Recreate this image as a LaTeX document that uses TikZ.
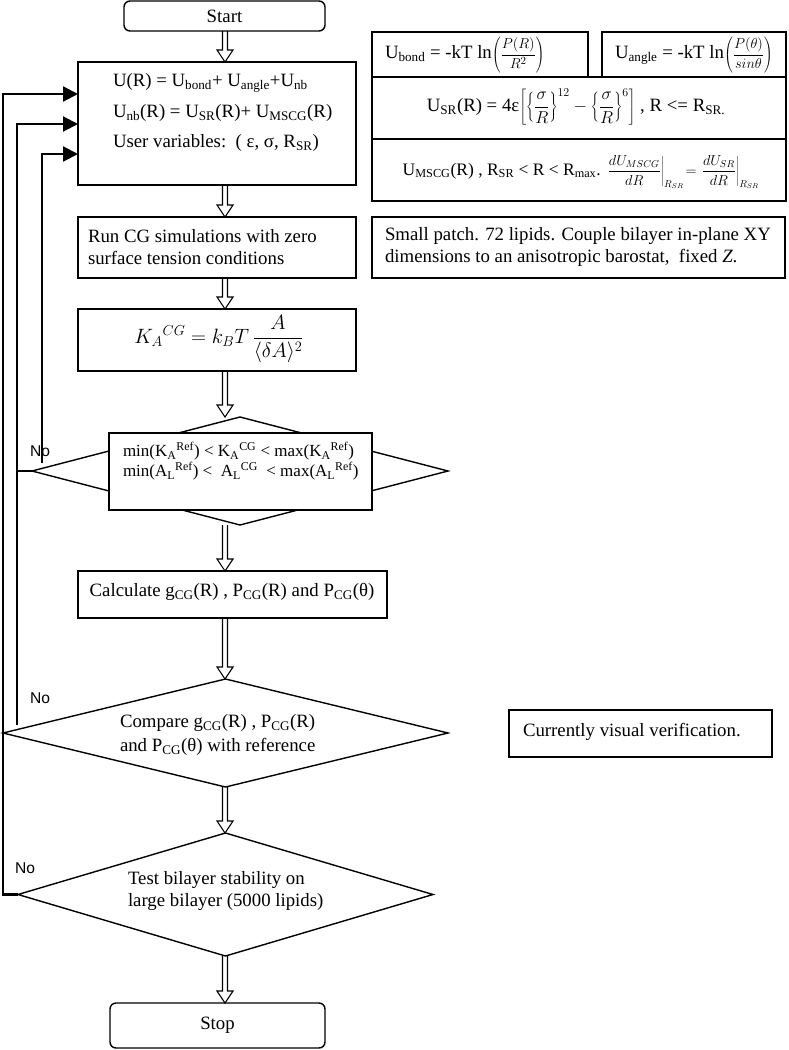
\documentclass[tikz,border=0pt]{standalone}
\usepackage{fontspec}
\setmainfont{Liberation Serif}
\newfontfamily\arialf{Liberation Sans}
\usetikzlibrary{shapes.geometric,arrows.meta,calc}
\newcommand\tsub[1]{\textsubscript{#1}}
\newcommand\tsup[1]{\textsuperscript{#1}}
\newcommand\mainsz{\fontsize{18.8}{22}\selectfont}
\newcommand\blockarrow[2]{%
  \draw[blockarr] ($(#1)+(-2.5,0)$) -- ($(#2)+(-2.5,-12)$) -- ($(#2)+(-8,-12)$)
    -- (#2) -- ($(#2)+(8,-12)$) -- ($(#2)+(2.5,-12)$) -- ($(#1)+(2.5,0)$);}
\begin{document}
\begin{tikzpicture}[x=1pt,y=-1pt,
  every node/.style={font=\mainsz, outer sep=0pt},
  box/.style={draw, line width=1.4pt, inner sep=0pt, anchor=north west},
  rbox/.style={box, rounded corners=6pt, anchor=center},
  dia/.style={draw, line width=1.4pt, diamond, inner sep=0pt},
  txt/.style={inner sep=0pt, anchor=west, align=left},
  blockarr/.style={draw, line width=1.1pt, line join=miter},
  loopline/.style={line width=2.2pt, -{Triangle[length=15pt,width=15pt]}},
  nolabel/.style={font=\arialf\fontsize{15.6}{18}\selectfont, inner sep=0pt}]
\useasboundingbox (0,0) rectangle (788,1050);
\coordinate (axis) at (225,0);

% left column
\node[rbox, minimum width=201, minimum height=30] (start) at (224.5,16) {Start};
\node[box, minimum width=278, minimum height=123] (box1) at (78,62) {};
\node[txt] (t1a) at (113,83) {U(R) = U\tsub{bond}+ U\tsub{angle}+U\tsub{nb}};
\node[txt] (t1b) at (113,113) {U\tsub{nb}(R) = U\tsub{SR}(R)+ U\tsub{MSCG}(R)};
\node[txt] (t1c) at (113,143) {User variables:\ \ ( ε, σ, R\tsub{SR})};

\node[box, minimum width=278, minimum height=61] (box2) at (78,217) {};
\node[txt] (t2) at (88,247) {Run CG simulations with zero\\surface tension conditions};

\node[box, minimum width=278, minimum height=62] (box3) at (78,309) {};
\node[inner sep=0pt, font=\fontsize{19.5}{20}\selectfont] (t3) at (219,339) {$K_A{}^{CG} = k_B T\,{\displaystyle\frac{A}{\langle \delta A\rangle^2}}$};

\node[dia, minimum width=416, minimum height=108, aspect=3.85] (d1) at (240,471) {};
\node[box, fill=white, minimum width=263, minimum height=77] (d1box) at (109,433) {};
\node[txt, font=\fontsize{17}{20}\selectfont] (t4) at (123,461)
  {min(K\tsub{A}\tsup{Ref}) < K\tsub{A}\tsup{CG} < max(K\tsub{A}\tsup{Ref})\\
   min(A\tsub{L}\tsup{Ref}) <\ \ A\tsub{L}\tsup{CG}\ \ < max(A\tsub{L}\tsup{Ref})};

\node[box, minimum width=309, minimum height=47] (box4) at (78,571) {};
\node[inner sep=0pt] (t5) at (232,592) {Calculate g\tsub{CG}(R) , P\tsub{CG}(R) and P\tsub{CG}(θ)};

\node[dia, minimum width=445, minimum height=108, aspect=4.1] (d2) at (225.5,733) {};
\node[txt, font=\fontsize{18.8}{24}\selectfont] (t6) at (120,735)
  {Compare g\tsub{CG}(R) , P\tsub{CG}(R)\\and P\tsub{CG}(θ) with reference};

\node[dia, minimum width=415, minimum height=123, aspect=3.4] (d3) at (225.5,894.5) {};
\node[txt] (t7) at (128,891) {Test bilayer stability on\\large bilayer (5000 lipids)};

\node[rbox, minimum width=215, minimum height=45] (stop) at (217.5,1025.5) {Stop};

% right column
\node[box, minimum width=216, minimum height=45] (bondbox) at (372,32) {};
\node[txt] (tb) at (385,55) {U\tsub{bond} = -kT ln{\fontsize{15}{15}\selectfont$\displaystyle\left(\frac{P(R)}{R^2}\right)$}};
\node[box, minimum width=184, minimum height=45] (anglebox) at (602,32) {};
\node[txt] (ta) at (615,55) {U\tsub{angle} = -kT ln{\fontsize{15}{15}\selectfont$\displaystyle\left(\frac{P(\theta)}{sin\theta}\right)$}};
\node[box, minimum width=414, minimum height=62] (srbox) at (372,77) {};
\node[inner sep=0pt] (tsr) at (576,107) {U\tsub{SR}(R) = 4ε{\fontsize{17}{17}\selectfont$\displaystyle\left[\left\{\frac{\sigma}{R}\right\}^{12} - \left\{\frac{\sigma}{R}\right\}^{6}\right]$} , R <= R\tsub{SR.}};
\node[box, minimum width=414, minimum height=62] (mscgbox) at (372,139) {};
\node[inner sep=0pt, font=\fontsize{17.5}{20}\selectfont] (tms) at (581,172) {U\tsub{MSCG}(R) , R\tsub{SR} < R < R\tsub{max}. {\fontsize{14.5}{14.5}\selectfont$\displaystyle\left.\frac{dU_{MSCG}}{dR}\right|_{R_{SR}}\! = \left.\frac{dU_{SR}}{dR}\right|_{R_{SR}}$}};

\node[box, minimum width=413, minimum height=61] (patchbox) at (372,217) {};
\node[txt] (tp) at (385,247) {Small patch. 72 lipids. Couple bilayer in-plane XY\\dimensions to an anisotropic barostat,\ \ fixed \textit{Z}.};

\node[box, minimum width=263, minimum height=47] (verbox) at (509,710) {};
\node[txt] (tv) at (523,732) {Currently visual verification.};

% block arrows
\blockarrow{axis |- start.south}{axis |- box1.north}
\blockarrow{axis |- box1.south}{axis |- box2.north}
\blockarrow{axis |- box2.south}{axis |- box3.north}
\blockarrow{axis |- box3.south}{axis |- d1.north}
\blockarrow{axis |- d1.south}{axis |- box4.north}
\blockarrow{axis |- box4.south}{axis |- d2.north}
\blockarrow{axis |- d2.south}{axis |- d3.north}
\blockarrow{axis |- d3.south}{axis |- stop.north}

% feedback loops
\coordinate (in1) at ($(box1.north west)+(0,32)$);
\coordinate (in2) at ($(box1.north west)+(0,62)$);
\coordinate (in3) at ($(box1.north west)+(0,92)$);
\coordinate (l2end) at (17,725);
\coordinate (l3end) at (42,463);
\draw[loopline] (d3.west) -- ++(-15,0) |- (in1);
\draw[loopline] (l2end) |- (in2);
\draw[loopline] (l3end) |- (in3);
\draw[line width=1.2pt] (d1.west) -- (l2end |- d1.west);

\node[nolabel] (no1) at (40,451) {No};
\node[nolabel] (no2) at (40,698) {No};
\node[nolabel] (no3) at (25,868) {No};
\end{tikzpicture}
\end{document}
